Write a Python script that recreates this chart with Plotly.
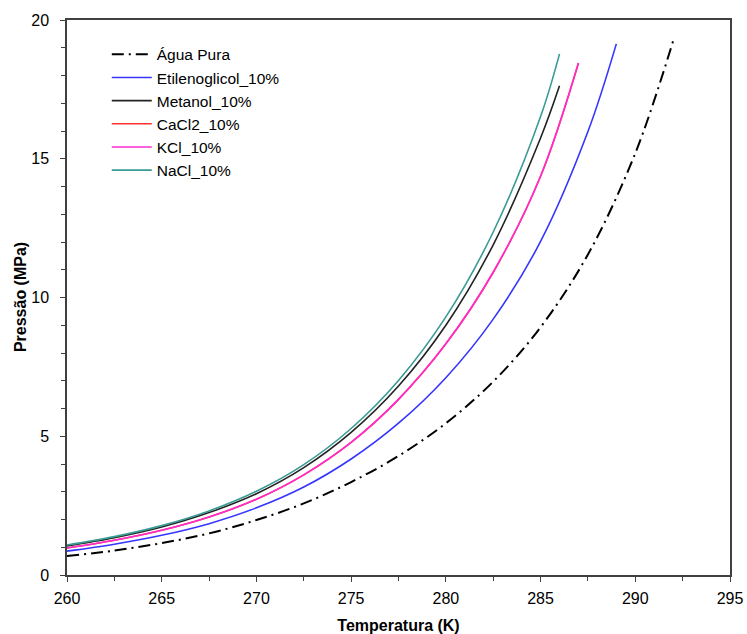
import plotly.graph_objects as go

# Hydrate equilibrium pressure (MPa) vs temperature (K) for pure water and 10% inhibitor solutions
t_agua = [260, 262.5, 265, 267.5, 270, 272.5, 275, 277.5, 280, 282.5, 285, 287.5, 290, 292]
p_agua = [0.68, 0.88, 1.15, 1.5, 1.98, 2.58, 3.35, 4.29, 5.47, 6.97, 8.93, 11.55, 15.2, 19.25]

t_etil = [260, 262.5, 265, 267.5, 270, 272.5, 275, 277.5, 280, 282.5, 285, 287.5, 289]
p_etil = [0.86, 1.11, 1.43, 1.85, 2.42, 3.17, 4.18, 5.47, 7.11, 9.22, 12.02, 15.98, 19.14]

t_meta = [260, 262.5, 265, 267.5, 270, 272.5, 275, 277.5, 280, 282.5, 285, 286]
p_meta = [1.05, 1.345, 1.73, 2.25, 2.93, 3.87, 5.14, 6.81, 9.0, 11.9, 15.75, 17.63]

t_cacl2 = [260, 262.5, 265, 267.5, 270, 272.5, 275, 277.5, 280, 282.5, 285, 287]
p_cacl2 = [0.97, 1.25, 1.61, 2.09, 2.73, 3.61, 4.78, 6.33, 8.33, 10.91, 14.37, 18.45]

t_kcl = [260, 262.5, 265, 267.5, 270, 272.5, 275, 277.5, 280, 282.5, 285, 287]
p_kcl = [0.97, 1.25, 1.61, 2.09, 2.73, 3.61, 4.78, 6.33, 8.33, 10.91, 14.37, 18.45]

t_nacl = [260, 262.5, 265, 267.5, 270, 272.5, 275, 277.5, 280, 282.5, 285, 286]
p_nacl = [1.08, 1.383, 1.78, 2.31, 3.02, 3.98, 5.28, 7.01, 9.3, 12.36, 16.52, 18.78]

series = [
    ("Água Pura", t_agua, p_agua, "#000000", "12px,5px,2px,5px", 2),
    ("Etilenoglicol_10%", t_etil, p_etil, "#3535ff", "solid", 1.6),
    ("Metanol_10%", t_meta, p_meta, "#222222", "solid", 1.6),
    ("CaCl2_10%", t_cacl2, p_cacl2, "#ff3030", "solid", 1.6),
    ("KCl_10%", t_kcl, p_kcl, "#ff2bd0", "solid", 1.6),
    ("NaCl_10%", t_nacl, p_nacl, "#3a9a94", "solid", 1.6),
]

fig = go.Figure()
for name, t, p, color, dash, width in series:
    fig.add_trace(go.Scatter(
        x=t, y=p, name=name, mode="lines",
        line=dict(color=color, dash=dash, width=width, shape="spline", smoothing=1.0),
    ))

FONT = "Liberation Sans, Arial"

axis_common = dict(
    showline=True, linecolor="#404040", linewidth=1.5, mirror=True,
    ticks="outside", ticklen=5, tickwidth=1.2, tickcolor="#404040",
    showgrid=False, zeroline=False, automargin=False,
    tickfont=dict(family=FONT, size=16, color="#000000"),
)

fig.update_xaxes(
    range=[260, 295], tick0=260, dtick=5,
    minor=dict(dtick=2.5, ticks="outside", ticklen=4, tickcolor="#404040", showgrid=False),
    ticklabelstandoff=3,
    title=dict(text="<b>Temperatura (K)</b>", standoff=18,
               font=dict(family=FONT, size=16, color="#000000")),
    **axis_common,
)
fig.update_yaxes(
    range=[0, 20], tick0=0, dtick=5,
    minor=dict(dtick=1, ticks="outside", ticklen=4, tickcolor="#404040", showgrid=False),
    ticklabelstandoff=8,
    **axis_common,
)

# Vertical axis title placed in paper coordinates
fig.add_annotation(
    text="<b>Pressão (MPa)</b>", xref="paper", yref="paper",
    x=-0.07, y=0.5, xanchor="center", yanchor="middle",
    textangle=-90, showarrow=False,
    font=dict(family=FONT, size=16, color="#000000"),
)

fig.update_layout(
    width=747, height=634,
    margin=dict(l=67, r=17, t=20, b=59),
    paper_bgcolor="white", plot_bgcolor="white",
    font=dict(family=FONT, color="#000000"),
    legend=dict(
        x=0.06, y=0.968, xanchor="left", yanchor="top",
        bgcolor="rgba(0,0,0,0)", borderwidth=0,
        font=dict(family=FONT, size=15.5, color="#000000"),
        tracegroupgap=0, itemwidth=40,
    ),
    showlegend=True,
)

fig.write_html("out.html")
